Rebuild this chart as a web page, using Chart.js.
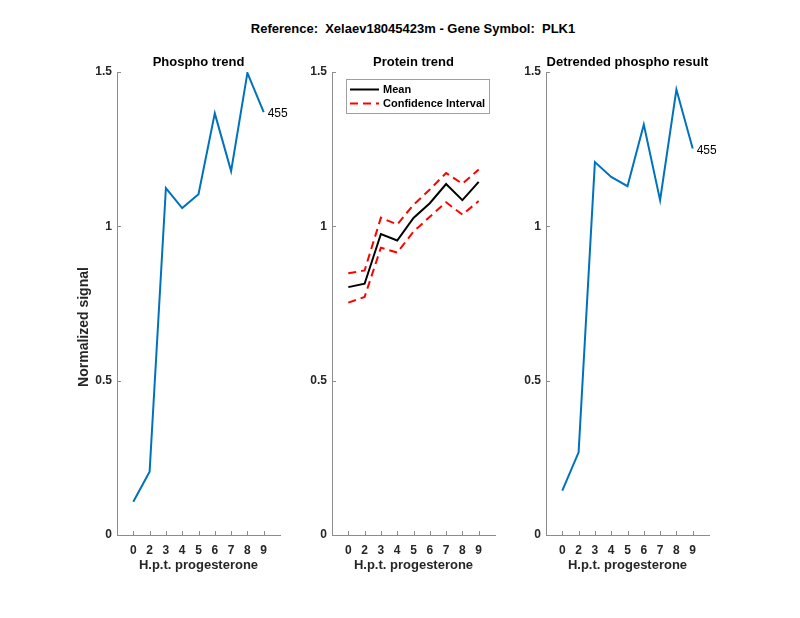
<!DOCTYPE html>
<html lang="en">
<head>
  <meta charset="UTF-8" />
  <title>PLK1 phospho / protein trend</title>
  <script src="https://cdn.jsdelivr.net/npm/chart.js"></script>
  <style>
    body { margin: 0; background: #fff; }
    #wrap { position: relative; width: 800px; height: 618px; }
    canvas { position: absolute; left: 0; top: 0; }
    #suptitle {
      position: absolute; top: 21px; left: 413px; transform: translateX(-50%);
      font: bold 13px "Liberation Sans", Arial, sans-serif; line-height: 15px;
      white-space: pre; color: #000;
    }
  </style>
</head>
<body>
  <div id="wrap">
    <div id="suptitle">Reference:  Xelaev18045423m - Gene Symbol:  PLK1</div>
    <canvas id="phosphoChart" width="800" height="618"></canvas>
    <canvas id="proteinChart" width="800" height="618"></canvas>
    <canvas id="detrendChart" width="800" height="618"></canvas>
  </div>

  <script>
    // x categories (hours post progesterone)
    const hours = ['0', '2', '3', '4', '5', '6', '7', '8', '9'];
    const yTicks = [0, 0.5, 1, 1.5];
    const peptideId = '455';

    const phospho = [0.108, 0.205, 1.124, 1.059, 1.104, 1.366, 1.179, 1.497, 1.370];
    const proteinMean = [0.803, 0.814, 0.975, 0.954, 1.027, 1.075, 1.137, 1.085, 1.144];
    const proteinUpper = [0.848, 0.857, 1.028, 1.006, 1.070, 1.119, 1.173, 1.138, 1.184];
    const proteinLower = [0.753, 0.771, 0.931, 0.915, 0.983, 1.031, 1.078, 1.038, 1.082];
    const detrended = [0.144, 0.268, 1.208, 1.160, 1.130, 1.330, 1.085, 1.443, 1.252];

    const FONT = '"Liberation Sans", Arial, sans-serif';
    const AXIS_GRAY = '#8c8c8c';
    const TEXT = '#262626';

    function toPoints(values) {
      return values.map((v, i) => ({ x: i + 1, y: v }));
    }

    // matlab-ish decorations: inward ticks, subplot title, legend, end label
    const matlabAxes = {
      id: 'matlabAxes',
      afterDraw(chart, args, opts) {
        const ctx = chart.ctx;
        const area = chart.chartArea;
        const xs = chart.scales.x, ys = chart.scales.y;
        ctx.save();

        ctx.strokeStyle = AXIS_GRAY;
        ctx.lineWidth = 1;
        ctx.beginPath();
        xs.ticks.forEach(t => {
          const px = Math.round(xs.getPixelForValue(t.value)) + 0.5;
          ctx.moveTo(px, area.bottom);
          ctx.lineTo(px, area.bottom - 4);
        });
        ys.ticks.forEach(t => {
          const py = Math.round(ys.getPixelForValue(t.value)) + 0.5;
          ctx.moveTo(area.left, py);
          ctx.lineTo(area.left + 4, py);
        });
        ctx.stroke();

        // title
        ctx.fillStyle = '#000';
        ctx.font = 'bold 13px ' + FONT;
        ctx.textAlign = 'center';
        ctx.textBaseline = 'alphabetic';
        ctx.fillText(opts.title, (area.left + area.right) / 2, area.top - 6);

        if (opts.yLabel) {
          ctx.save();
          ctx.translate(area.left - 33, 327);
          ctx.rotate(-Math.PI / 2);
          ctx.fillStyle = TEXT;
          ctx.font = 'bold 14px ' + FONT;
          ctx.textBaseline = 'middle';
          ctx.fillText(opts.yLabel, 0, 0);
          ctx.restore();
        }

        if (opts.endLabel) {
          const ds = chart.data.datasets[0].data;
          const last = ds[ds.length - 1];
          ctx.fillStyle = '#000';
          ctx.font = '12px ' + FONT;
          ctx.textAlign = 'left';
          ctx.textBaseline = 'middle';
          ctx.fillText(opts.endLabel, xs.getPixelForValue(last.x) + 4, ys.getPixelForValue(last.y) + 2);
        }

        if (opts.legend) {
          const bx = area.left + 14, by = area.top + 7, bw = 143, bh = 34;
          ctx.fillStyle = '#fff';
          ctx.fillRect(bx, by, bw, bh);
          ctx.strokeStyle = '#a0a0a0';
          ctx.strokeRect(bx + 0.5, by + 0.5, bw, bh);
          ctx.font = 'bold 11px ' + FONT;
          ctx.textAlign = 'left';
          ctx.textBaseline = 'middle';
          opts.legend.forEach((item, i) => {
            const ds = chart.data.datasets[item.dataset];
            const y = by + 10.5 + i * 14;
            ctx.strokeStyle = ds.borderColor;
            ctx.lineWidth = ds.borderWidth;
            ctx.setLineDash(ds.borderDash || []);
            ctx.beginPath();
            ctx.moveTo(bx + 4, y);
            ctx.lineTo(bx + 33, y);
            ctx.stroke();
            ctx.setLineDash([]);
            ctx.fillStyle = '#000';
            ctx.fillText(item.text, bx + 37, y);
          });
        }
        ctx.restore();
      }
    };

    function makeChart(id, datasets, pad, yWidth, deco) {
      return new Chart(document.getElementById(id), {
        type: 'line',
        data: { datasets },
        options: {
          responsive: false,
          animation: false,
          layout: { padding: { left: pad.left, right: pad.right, top: 72, bottom: 45 } },
          elements: { point: { radius: 0 }, line: { tension: 0 } },
          plugins: {
            legend: { display: false },
            tooltip: { enabled: false },
            matlabAxes: deco
          },
          scales: {
            x: {
              type: 'linear',
              min: 0,
              max: 10,
              afterBuildTicks: s => { s.ticks = hours.map((h, i) => ({ value: i + 1 })); },
              afterFit: s => { s.height = 38; },
              grid: { display: false, drawTicks: false },
              border: { display: true, color: AXIS_GRAY, width: 1 },
              ticks: {
                autoSkip: false,
                maxRotation: 0,
                padding: 8,
                color: TEXT,
                font: { family: FONT, size: 12, weight: 'bold' },
                callback: v => hours[Math.round(v) - 1]
              },
              title: {
                display: true,
                text: 'H.p.t. progesterone',
                color: TEXT,
                padding: { top: 0, bottom: 0 },
                font: { family: FONT, size: 13, weight: 'bold' }
              }
            },
            y: {
              min: 0,
              max: 1.5,
              afterBuildTicks: s => { s.ticks = yTicks.map(v => ({ value: v })); },
              afterFit: s => { s.width = yWidth; },
              grid: { display: false, drawTicks: false },
              border: { display: true, color: AXIS_GRAY, width: 1 },
              ticks: {
                padding: 5,
                color: TEXT,
                font: { family: FONT, size: 12, weight: 'bold' },
                callback: v => String(v)
              }
            }
          }
        },
        plugins: [matlabAxes]
      });
    }

    makeChart('phosphoChart', [
      { data: toPoints(phospho), borderColor: '#0072BD', borderWidth: 2 }
    ], { left: 72, right: 520 }, 45, { title: 'Phospho trend', endLabel: peptideId, yLabel: 'Normalized signal' });

    makeChart('proteinChart', [
      { data: toPoints(proteinMean), borderColor: '#000000', borderWidth: 2 },
      { data: toPoints(proteinUpper), borderColor: '#FF0000', borderWidth: 2, borderDash: [8, 5] },
      { data: toPoints(proteinLower), borderColor: '#FF0000', borderWidth: 2, borderDash: [8, 5] }
    ], { left: 292, right: 305 }, 40, {
      title: 'Protein trend',
      legend: [{ dataset: 0, text: 'Mean' }, { dataset: 1, text: 'Confidence Interval' }]
    });

    makeChart('detrendChart', [
      { data: toPoints(detrended), borderColor: '#0072BD', borderWidth: 2 }
    ], { left: 506, right: 91 }, 40, { title: 'Detrended phospho result', endLabel: peptideId });
  </script>
</body>
</html>
